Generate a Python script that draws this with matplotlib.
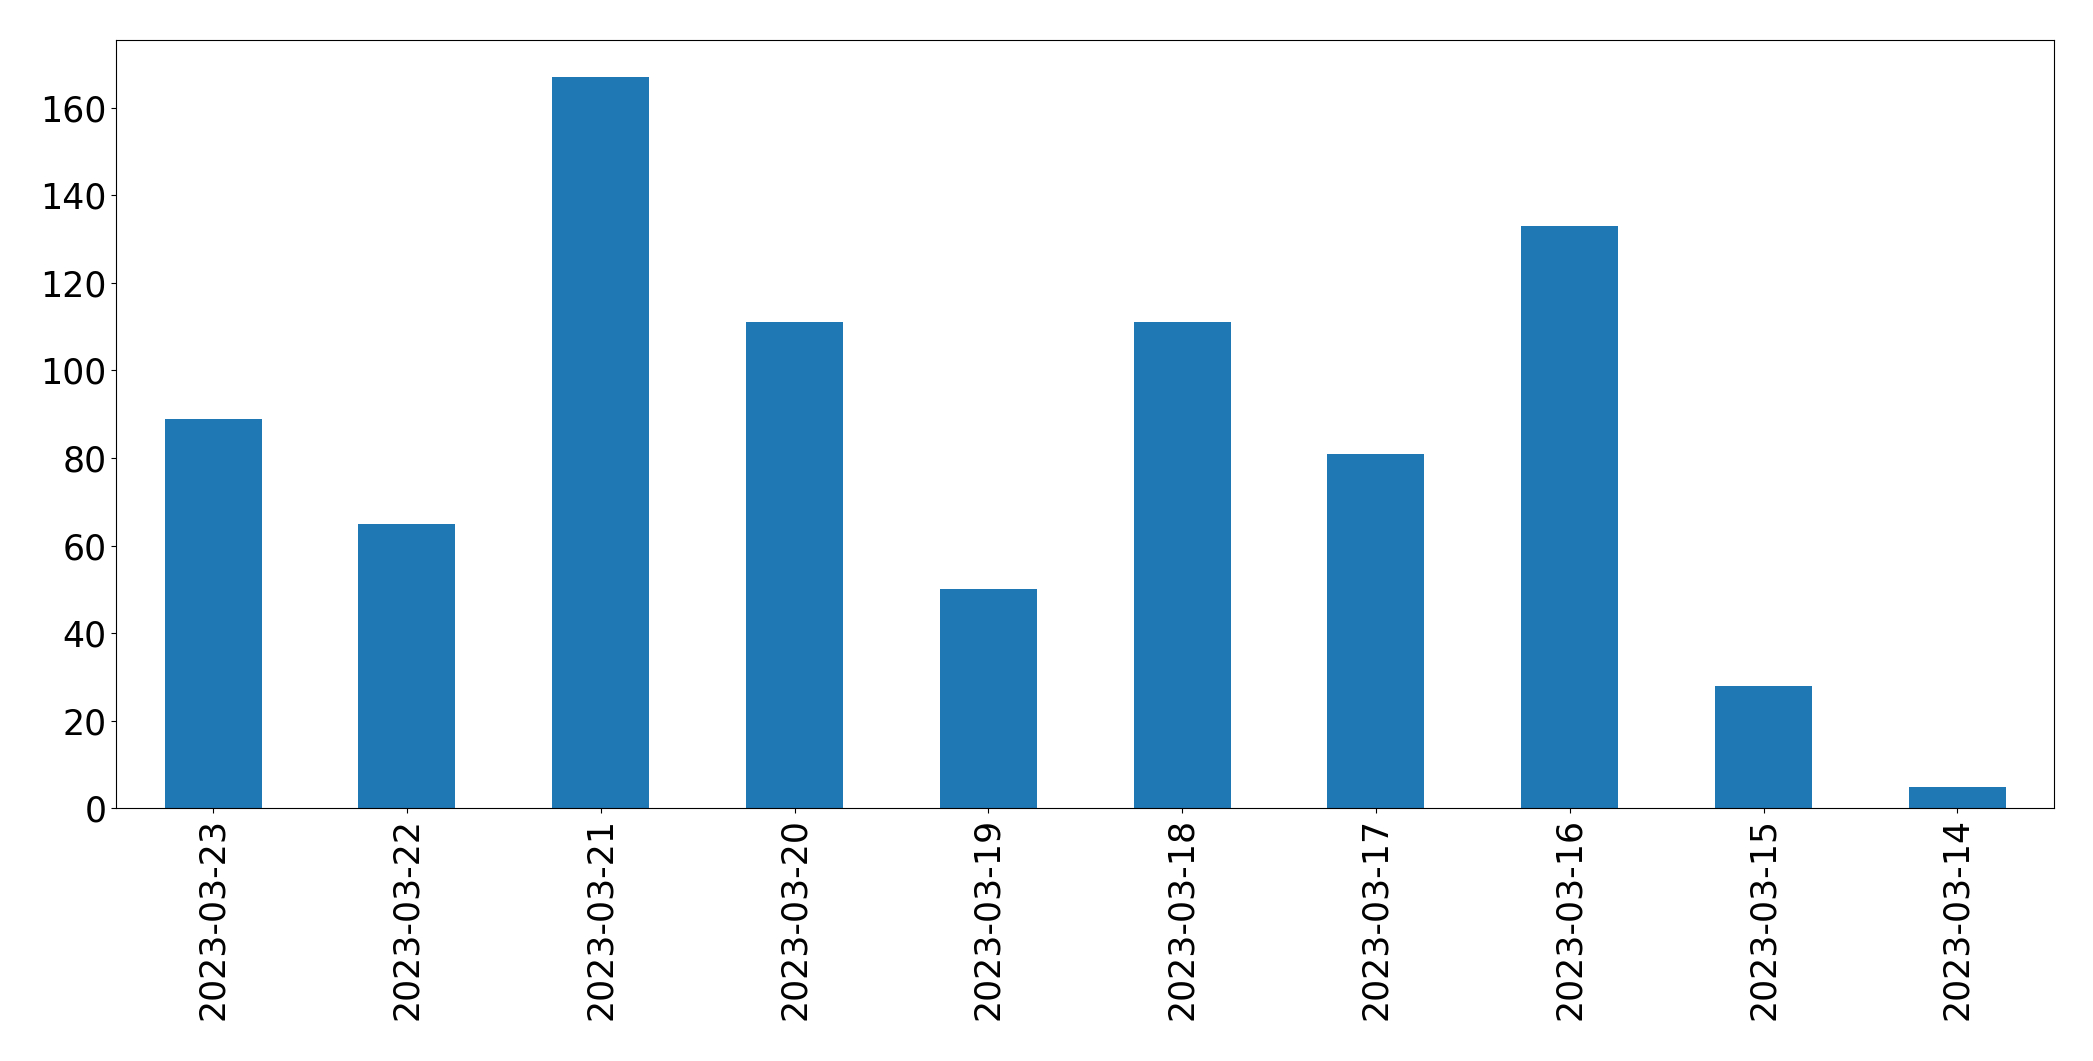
import matplotlib
matplotlib.use("Agg")
import matplotlib.pyplot as plt
import numpy as np

dates = ["2023-03-23", "2023-03-22", "2023-03-21", "2023-03-20", "2023-03-19",
         "2023-03-18", "2023-03-17", "2023-03-16", "2023-03-15", "2023-03-14"]
counts = [89, 65, 167, 111, 50, 111, 81, 133, 28, 5]

fig = plt.figure(figsize=(20.93, 10.61), dpi=100)
ax = fig.add_axes([0.0555, 0.238, 0.926, 0.724])
x = np.arange(len(dates))
ax.bar(x, counts, width=0.5, color="#1f77b4")
ax.set_xlim(-0.5, len(dates) - 0.5)
ax.set_xticks(x)
ax.set_xticklabels(dates, rotation=90)
ax.tick_params(axis="both", labelsize=25)

fig.savefig("out.png")
plt.close()
